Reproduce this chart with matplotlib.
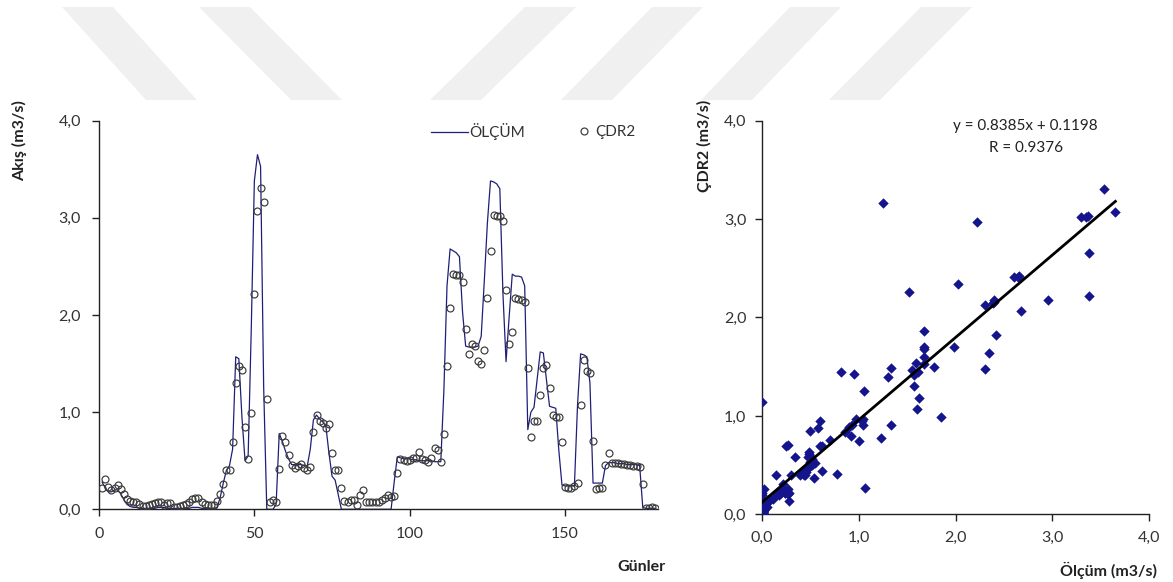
import matplotlib
matplotlib.use("Agg")
import matplotlib.pyplot as plt
import numpy as np
from matplotlib.lines import Line2D
from matplotlib.patches import Polygon
from matplotlib.ticker import FuncFormatter


plt.rcParams["font.family"] = ["Lato", "DejaVu Sans"]

W, H = 1173, 582

# daily flow (m3/s), days 1..179
olcum = [
    0.28, 0.22, 0.18, 0.18, 0.20, 0.20, 0.16, 0.10, 0.05, 0.03,
    0.02, 0.02, 0.01, 0.01, 0.01, 0.01, 0.01, 0.01, 0.02, 0.02,
    0.02, 0.01, 0.01, 0.01, 0.01, 0.01, 0.01, 0.01, 0.01, 0.02,
    0.02, 0.02, 0.01, 0.01, 0.01, 0.01, 0.01, 0.02, 0.12, 0.27,
    0.40, 0.45, 0.62, 1.57, 1.55, 0.95, 0.50, 0.55, 1.85, 3.38,
    3.65, 3.53, 1.25, 0.00, 0.00, 0.00, 0.05, 0.78, 0.70, 0.60,
    0.52, 0.46, 0.46, 0.46, 0.46, 0.45, 0.44, 0.62, 0.92, 0.97,
    0.93, 0.90, 0.86, 0.58, 0.34, 0.30, 0.15, 0.00, 0.00, 0.00,
    0.00, 0.00, 0.00, 0.00, 0.00, 0.00, 0.00, 0.00, 0.00, 0.00,
    0.00, 0.00, 0.00, 0.00, 0.28, 0.54, 0.53, 0.52, 0.52, 0.52,
    0.51, 0.51, 0.50, 0.50, 0.50, 0.50, 0.50, 0.49, 0.49, 0.49,
    1.23, 2.30, 2.68, 2.66, 2.64, 2.60, 2.03, 1.68, 1.67, 1.67,
    1.67, 1.68, 1.78, 2.35, 2.95, 3.38, 3.37, 3.35, 3.30, 2.22,
    1.52, 1.98, 2.42, 2.40, 2.40, 2.39, 2.30, 0.82, 1.00, 1.05,
    1.33, 1.62, 1.61, 1.33, 1.06, 1.05, 1.04, 0.60, 0.25, 0.24,
    0.24, 0.24, 0.24, 1.07, 1.60, 1.59, 1.57, 1.30, 0.27, 0.27,
    0.27, 0.27, 0.45, 0.48, 0.48, 0.48, 0.47, 0.47, 0.47, 0.46,
    0.46, 0.46, 0.46, 0.45, 0.02, 0.01, 0.01, 0.01, 0.01,
]

cdr2 = [
    0.22, 0.31, 0.23, 0.20, 0.22, 0.25, 0.21, 0.16, 0.11, 0.09,
    0.08, 0.07, 0.05, 0.03, 0.03, 0.04, 0.05, 0.06, 0.08, 0.08,
    0.04, 0.06, 0.06, 0.02, 0.02, 0.03, 0.04, 0.05, 0.08, 0.11,
    0.12, 0.12, 0.08, 0.05, 0.04, 0.04, 0.04, 0.09, 0.16, 0.26,
    0.40, 0.40, 0.69, 1.30, 1.47, 1.43, 0.85, 0.52, 0.99, 2.22,
    3.07, 3.31, 3.16, 1.14, 0.08, 0.10, 0.07, 0.41, 0.75, 0.69,
    0.56, 0.46, 0.43, 0.45, 0.47, 0.43, 0.40, 0.44, 0.80, 0.97,
    0.91, 0.89, 0.84, 0.88, 0.58, 0.40, 0.40, 0.22, 0.09, 0.08,
    0.10, 0.10, 0.04, 0.15, 0.20, 0.08, 0.08, 0.08, 0.08, 0.07,
    0.10, 0.12, 0.15, 0.13, 0.14, 0.37, 0.52, 0.51, 0.50, 0.51,
    0.53, 0.53, 0.59, 0.52, 0.51, 0.49, 0.53, 0.63, 0.61, 0.49,
    0.78, 1.48, 2.07, 2.42, 2.41, 2.41, 2.34, 1.86, 1.60, 1.70,
    1.68, 1.53, 1.50, 1.64, 2.18, 2.66, 3.03, 3.02, 3.02, 2.97,
    2.26, 1.70, 1.82, 2.18, 2.16, 2.15, 2.13, 1.45, 0.74, 0.91,
    0.91, 1.18, 1.45, 1.49, 1.25, 0.97, 0.95, 0.95, 0.69, 0.23,
    0.22, 0.22, 0.24, 0.27, 1.07, 1.54, 1.42, 1.40, 0.70, 0.21,
    0.22, 0.22, 0.46, 0.58, 0.48, 0.48, 0.48, 0.47, 0.47, 0.46,
    0.46, 0.45, 0.45, 0.44, 0.26, 0.01, 0.01, 0.02, 0.01,
]

days = np.arange(1, len(olcum) + 1)

# trend line as printed on the chart
slope, intercept = 0.8385, 0.1198
eq_text = "y = 0.8385x + 0.1198"
r_text = "R = 0.9376"

# background watermark bands: (top x0, bottom x0) in pixels, band width 51 px
watermark = [(62, 146), (199, 291), (525, 430), (652, 561), (790, 701), (921, 829)]


def px(x, y):
    return x / W, 1 - y / H


def comma(v, pos):
    return ("%.1f" % v).replace(".", ",")


fig = plt.figure(figsize=(W / 100, H / 100), dpi=100)

for top, bot in watermark:
    pts = [px(top, 7), px(top + 51, 7), px(bot + 51, 100), px(bot, 100)]
    fig.patches.append(Polygon(pts, closed=True, transform=fig.transFigure,
                               facecolor="#f0f0f0", edgecolor="none", zorder=0))

text_col = "#333333"
mk = dict(ls="none", marker="o", ms=5.0, mfc="none", mec="#3a3a3a", mew=0.85)

# ---- left: time series ----
ax1 = fig.add_axes([99 / W, 72.7 / H, 559.3 / W, 388.6 / H])
ax1.patch.set_alpha(0)
ax1.plot(days, olcum, color="#1f1f78", lw=0.9, zorder=2)
ax1.plot(days, cdr2, zorder=3, **mk)
ax1.set_xlim(0, 180)
ax1.set_ylim(0, 4)
ax1.set_xticks([0, 50, 100, 150])
ax1.set_yticks(np.arange(0, 4.01, 1.0))
ax1.yaxis.set_major_formatter(FuncFormatter(comma))

leg1 = ax1.legend([Line2D([], [], color="#1f1f78", lw=0.9)], ["ÖLÇÜM"],
                  loc="center left", bbox_to_anchor=px(431, 132),
                  bbox_transform=fig.transFigure, frameon=False,
                  handlelength=2.4, handletextpad=0.1, borderpad=0,
                  borderaxespad=0, fontsize=11)
for t in leg1.get_texts():
    t.set_color(text_col)
ax1.add_artist(leg1)
leg2 = ax1.legend([Line2D([], [], **mk)], ["ÇDR2"],
                  loc="center left", bbox_to_anchor=px(578, 132),
                  bbox_transform=fig.transFigure, frameon=False,
                  handlelength=0.8, handletextpad=0.3, borderpad=0,
                  borderaxespad=0, fontsize=11)
for t in leg2.get_texts():
    t.set_color(text_col)

# ---- right: scatter ----
ax2 = fig.add_axes([761.7 / W, 67.7 / H, 387.6 / W, 393.6 / H])
ax2.patch.set_alpha(0)
ax2.scatter(olcum, cdr2, marker="D", s=28, color="#14148c", linewidths=0,
            zorder=3)
xfit = np.array([min(olcum), max(olcum)])
ax2.plot(xfit, slope * xfit + intercept, color="black", lw=2.0, zorder=4)
ax2.set_xlim(0, 4)
ax2.set_ylim(0, 4)
ax2.set_xticks(np.arange(0, 4.01, 1.0))
ax2.set_yticks(np.arange(0, 4.01, 1.0))
ax2.xaxis.set_major_formatter(FuncFormatter(comma))
ax2.yaxis.set_major_formatter(FuncFormatter(comma))
ax2.text(0.679, 0.986, eq_text, transform=ax2.transAxes, ha="center",
         va="center", fontsize=11, color="#222222")
ax2.text(0.681, 0.930, r_text, transform=ax2.transAxes, ha="center",
         va="center", fontsize=11, color="#222222")

for ax, xpad, ypad in [(ax1, 8, 8), (ax2, 7, 6)]:
    for side in ["top", "right"]:
        ax.spines[side].set_visible(False)
    for side in ["left", "bottom"]:
        ax.spines[side].set_color("#222222")
        ax.spines[side].set_linewidth(1.0)
    ax.tick_params(axis="x", direction="out", length=5, width=1,
                   colors="#222222", labelcolor=text_col, labelsize=11.5,
                   pad=xpad)
    ax.tick_params(axis="y", direction="out", length=5, width=1,
                   colors="#222222", labelcolor=text_col, labelsize=11.5,
                   pad=ypad)

# axis titles
title_kw = dict(fontsize=11.5, fontweight="bold", color="#222222")
fig.text(*px(20, 141), "Akış (m3/s)", rotation=90, ha="center", va="center",
         **title_kw)
fig.text(*px(641, 567), "Günler", ha="center", va="center", **title_kw)
fig.text(*px(704, 146), "ÇDR2 (m3/s)", rotation=90, ha="center", va="center",
         **title_kw)
fig.text(*px(1109, 570), "Ölçüm (m3/s)", ha="center", va="center", **title_kw)

fig.savefig("out.png", dpi=100)
